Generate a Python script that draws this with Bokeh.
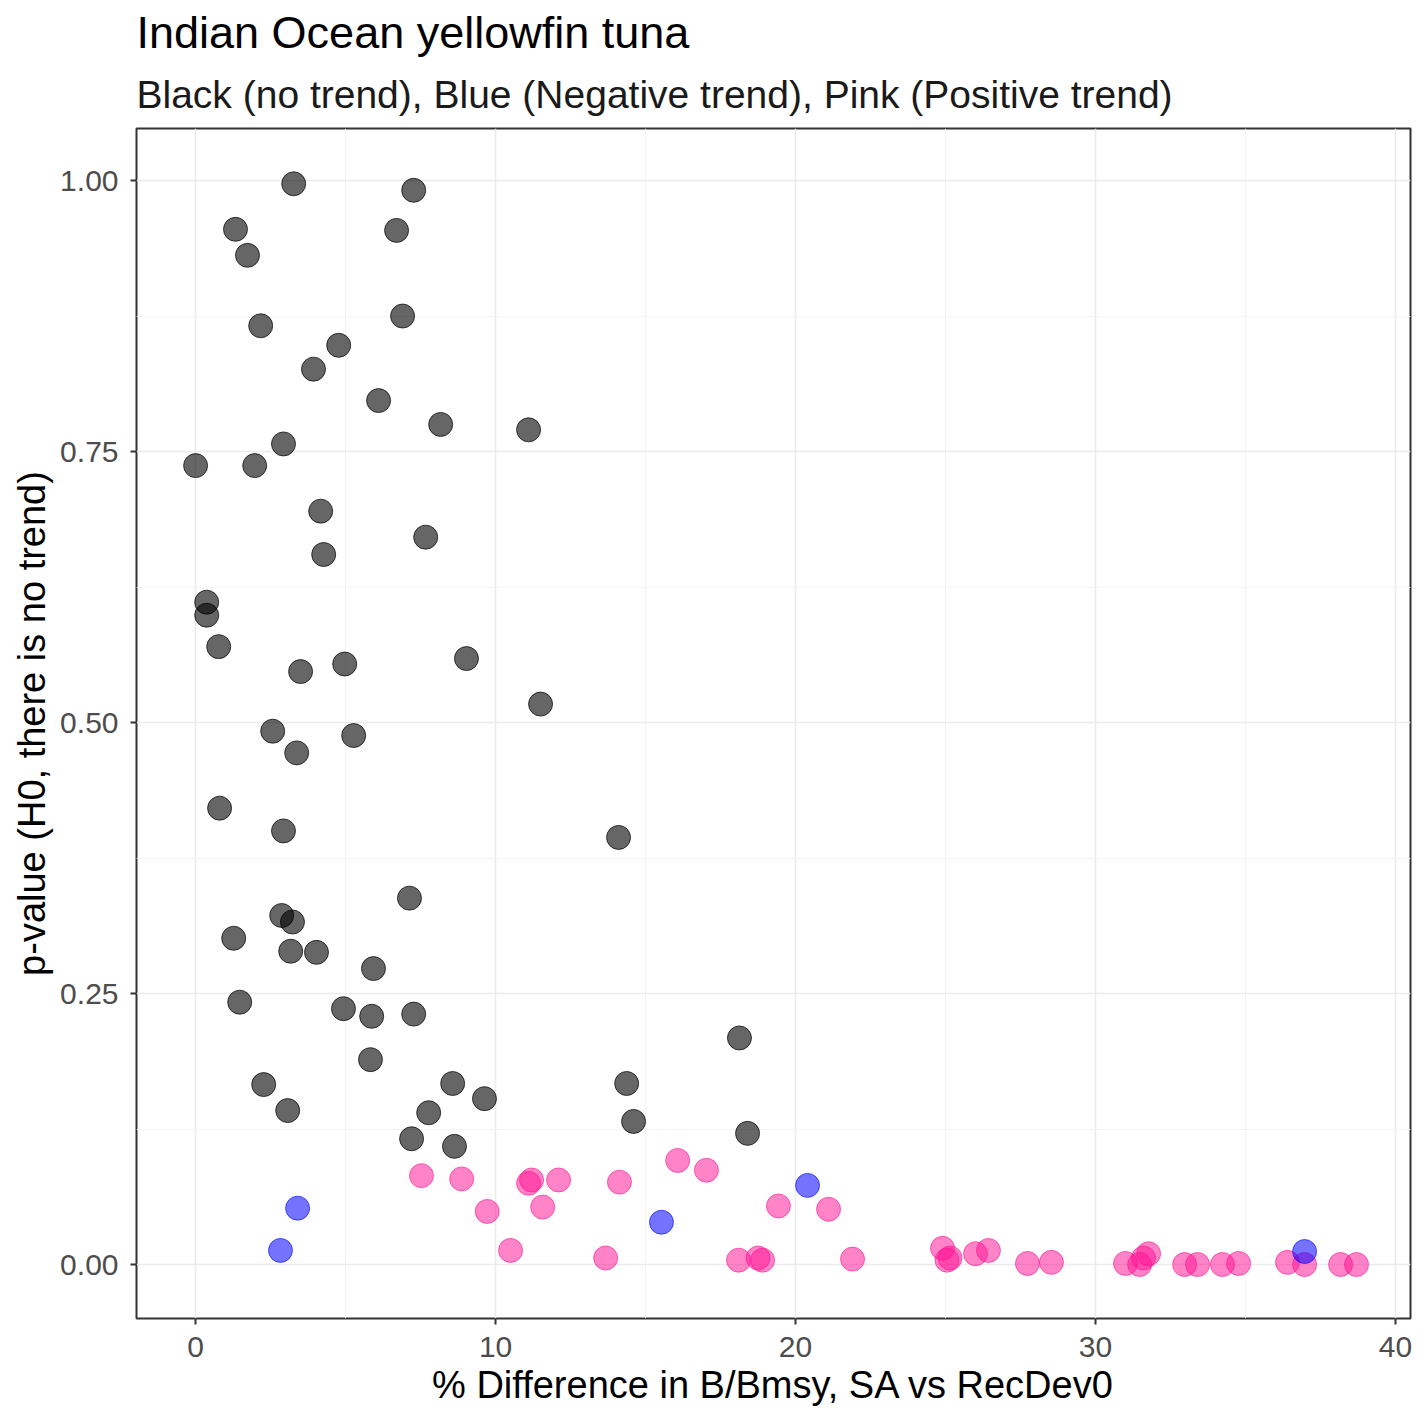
from bokeh.plotting import figure
from bokeh.models import FixedTicker, Title, PrintfTickFormatter, Range1d
from bokeh.embed import file_html
from bokeh.resources import INLINE

# No-trend (black) points
black_x = [0.0, 3.27, 7.27, 1.33, 1.73, 6.7, 2.17, 6.9, 4.77, 3.93, 6.1, 8.17, 11.1, 2.93,
           1.97, 4.17, 4.27, 7.67, 0.37, 0.37, 0.77, 4.97, 3.5, 9.03, 11.5, 2.57, 5.27, 3.37,
           0.8, 2.93, 14.1, 7.13, 2.87, 3.23, 1.27, 3.17, 4.03, 5.93, 1.47, 4.93, 5.87, 7.27,
           18.13, 5.83, 2.27, 8.57, 14.37, 3.07, 9.63, 7.77, 14.6, 18.4, 7.2, 8.63]
black_y = [0.737, 0.997, 0.991, 0.955, 0.931, 0.954, 0.866, 0.875, 0.848, 0.826, 0.797, 0.775,
           0.770, 0.757, 0.737, 0.695, 0.655, 0.671, 0.611, 0.599, 0.570, 0.554, 0.547, 0.559,
           0.517, 0.492, 0.488, 0.472, 0.421, 0.400, 0.394, 0.338, 0.322, 0.316, 0.301, 0.289,
           0.288, 0.273, 0.242, 0.236, 0.229, 0.231, 0.209, 0.189, 0.166, 0.167, 0.167, 0.142,
           0.153, 0.140, 0.132, 0.121, 0.116, 0.109]

# Negative-trend (blue) points
blue_x = [2.83, 3.4, 15.53, 20.4, 36.97]
blue_y = [0.013, 0.052, 0.039, 0.073, 0.012]

# Positive-trend (pink) points
pink_x = [7.53, 8.87, 9.72, 11.1, 11.2, 12.1, 11.57, 10.5, 13.67, 14.13, 16.07, 17.03,
          19.43, 21.1, 18.1, 18.75, 18.9, 21.9, 24.9, 25.05, 25.15, 26.0, 26.43, 27.73, 28.53,
          31.0, 31.47, 31.77, 31.6, 32.97, 33.4, 34.23, 34.77, 36.4, 36.97, 38.17, 38.7]
pink_y = [0.082, 0.079, 0.049, 0.075, 0.078, 0.078, 0.053, 0.013, 0.006, 0.076, 0.096, 0.087,
          0.054, 0.051, 0.004, 0.006, 0.004, 0.005, 0.015, 0.004, 0.006, 0.010, 0.013, 0.001,
          0.002, 0.001, 0.000, 0.010, 0.006, 0.000, 0.000, 0.000, 0.001, 0.002, 0.000, 0.000,
          0.000]

x_ticks = [0, 10, 20, 30, 40]
x_minor = [5, 15, 25, 35]
y_ticks = [0.0, 0.25, 0.5, 0.75, 1.0]
y_minor = [0.125, 0.375, 0.625, 0.875]

FONT = "Liberation Sans"

p = figure(width=1426, height=1417, output_backend="svg", toolbar_location=None,
           x_range=Range1d(-1.97, 40.5), y_range=Range1d(-0.0498, 1.048),
           min_border_left=136, min_border_right=16, min_border_top=128, min_border_bottom=99)

p.add_layout(Title(text="Black (no trend), Blue (Negative trend), Pink (Positive trend)",
                   text_font=FONT, text_font_size="39px", text_font_style="normal",
                   text_color="#1a1a1a", offset=0, standoff=25), "above")
p.add_layout(Title(text="Indian Ocean yellowfin tuna", text_font=FONT, text_font_size="45px",
                   text_font_style="normal", text_color="#000000", offset=0, standoff=1), "above")

p.outline_line_color = "#333333"
p.outline_line_width = 2
p.background_fill_color = "white"
p.border_fill_color = "white"

p.xaxis.ticker = FixedTicker(ticks=x_ticks, minor_ticks=x_minor)
p.yaxis.ticker = FixedTicker(ticks=y_ticks, minor_ticks=y_minor)
p.yaxis.formatter = PrintfTickFormatter(format="%.2f")

for ax in (p.xaxis, p.yaxis):
    ax.axis_line_color = None
    ax.major_tick_line_color = "#333333"
    ax.major_tick_line_width = 2
    ax.major_tick_out = 6
    ax.major_tick_in = 0
    ax.minor_tick_line_color = None
    ax.major_label_text_font = FONT
    ax.major_label_text_font_size = "30px"
    ax.major_label_text_color = "#4d4d4d"
    ax.axis_label_text_font = FONT
    ax.axis_label_text_font_size = "38px"
    ax.axis_label_text_font_style = "normal"
    ax.axis_label_text_color = "#000000"

p.xaxis.axis_label = "% Difference in B/Bmsy, SA vs RecDev0"
p.yaxis.axis_label = "p-value (H0, there is no trend)"
p.xaxis.major_label_standoff = 12
p.yaxis.major_label_standoff = 12
p.xaxis.axis_label_standoff = 4
p.yaxis.axis_label_standoff = 4

for g in (p.xgrid, p.ygrid):
    g.grid_line_color = "#ebebeb"
    g.grid_line_width = 1.5
    g.minor_grid_line_color = "#f4f4f4"
    g.minor_grid_line_width = 1

p.scatter(black_x, black_y, size=24, fill_color="black", fill_alpha=0.6,
          line_color="black", line_alpha=0.7, line_width=1)
p.scatter(pink_x, pink_y, size=24, fill_color="#ff1493", fill_alpha=0.52,
          line_color="#ff1493", line_alpha=0.6, line_width=1)
p.scatter(blue_x, blue_y, size=24, fill_color="#0000ff", fill_alpha=0.55,
          line_color="#0000ff", line_alpha=0.6, line_width=1)

open("out.html", "w").write(file_html(p, INLINE))
